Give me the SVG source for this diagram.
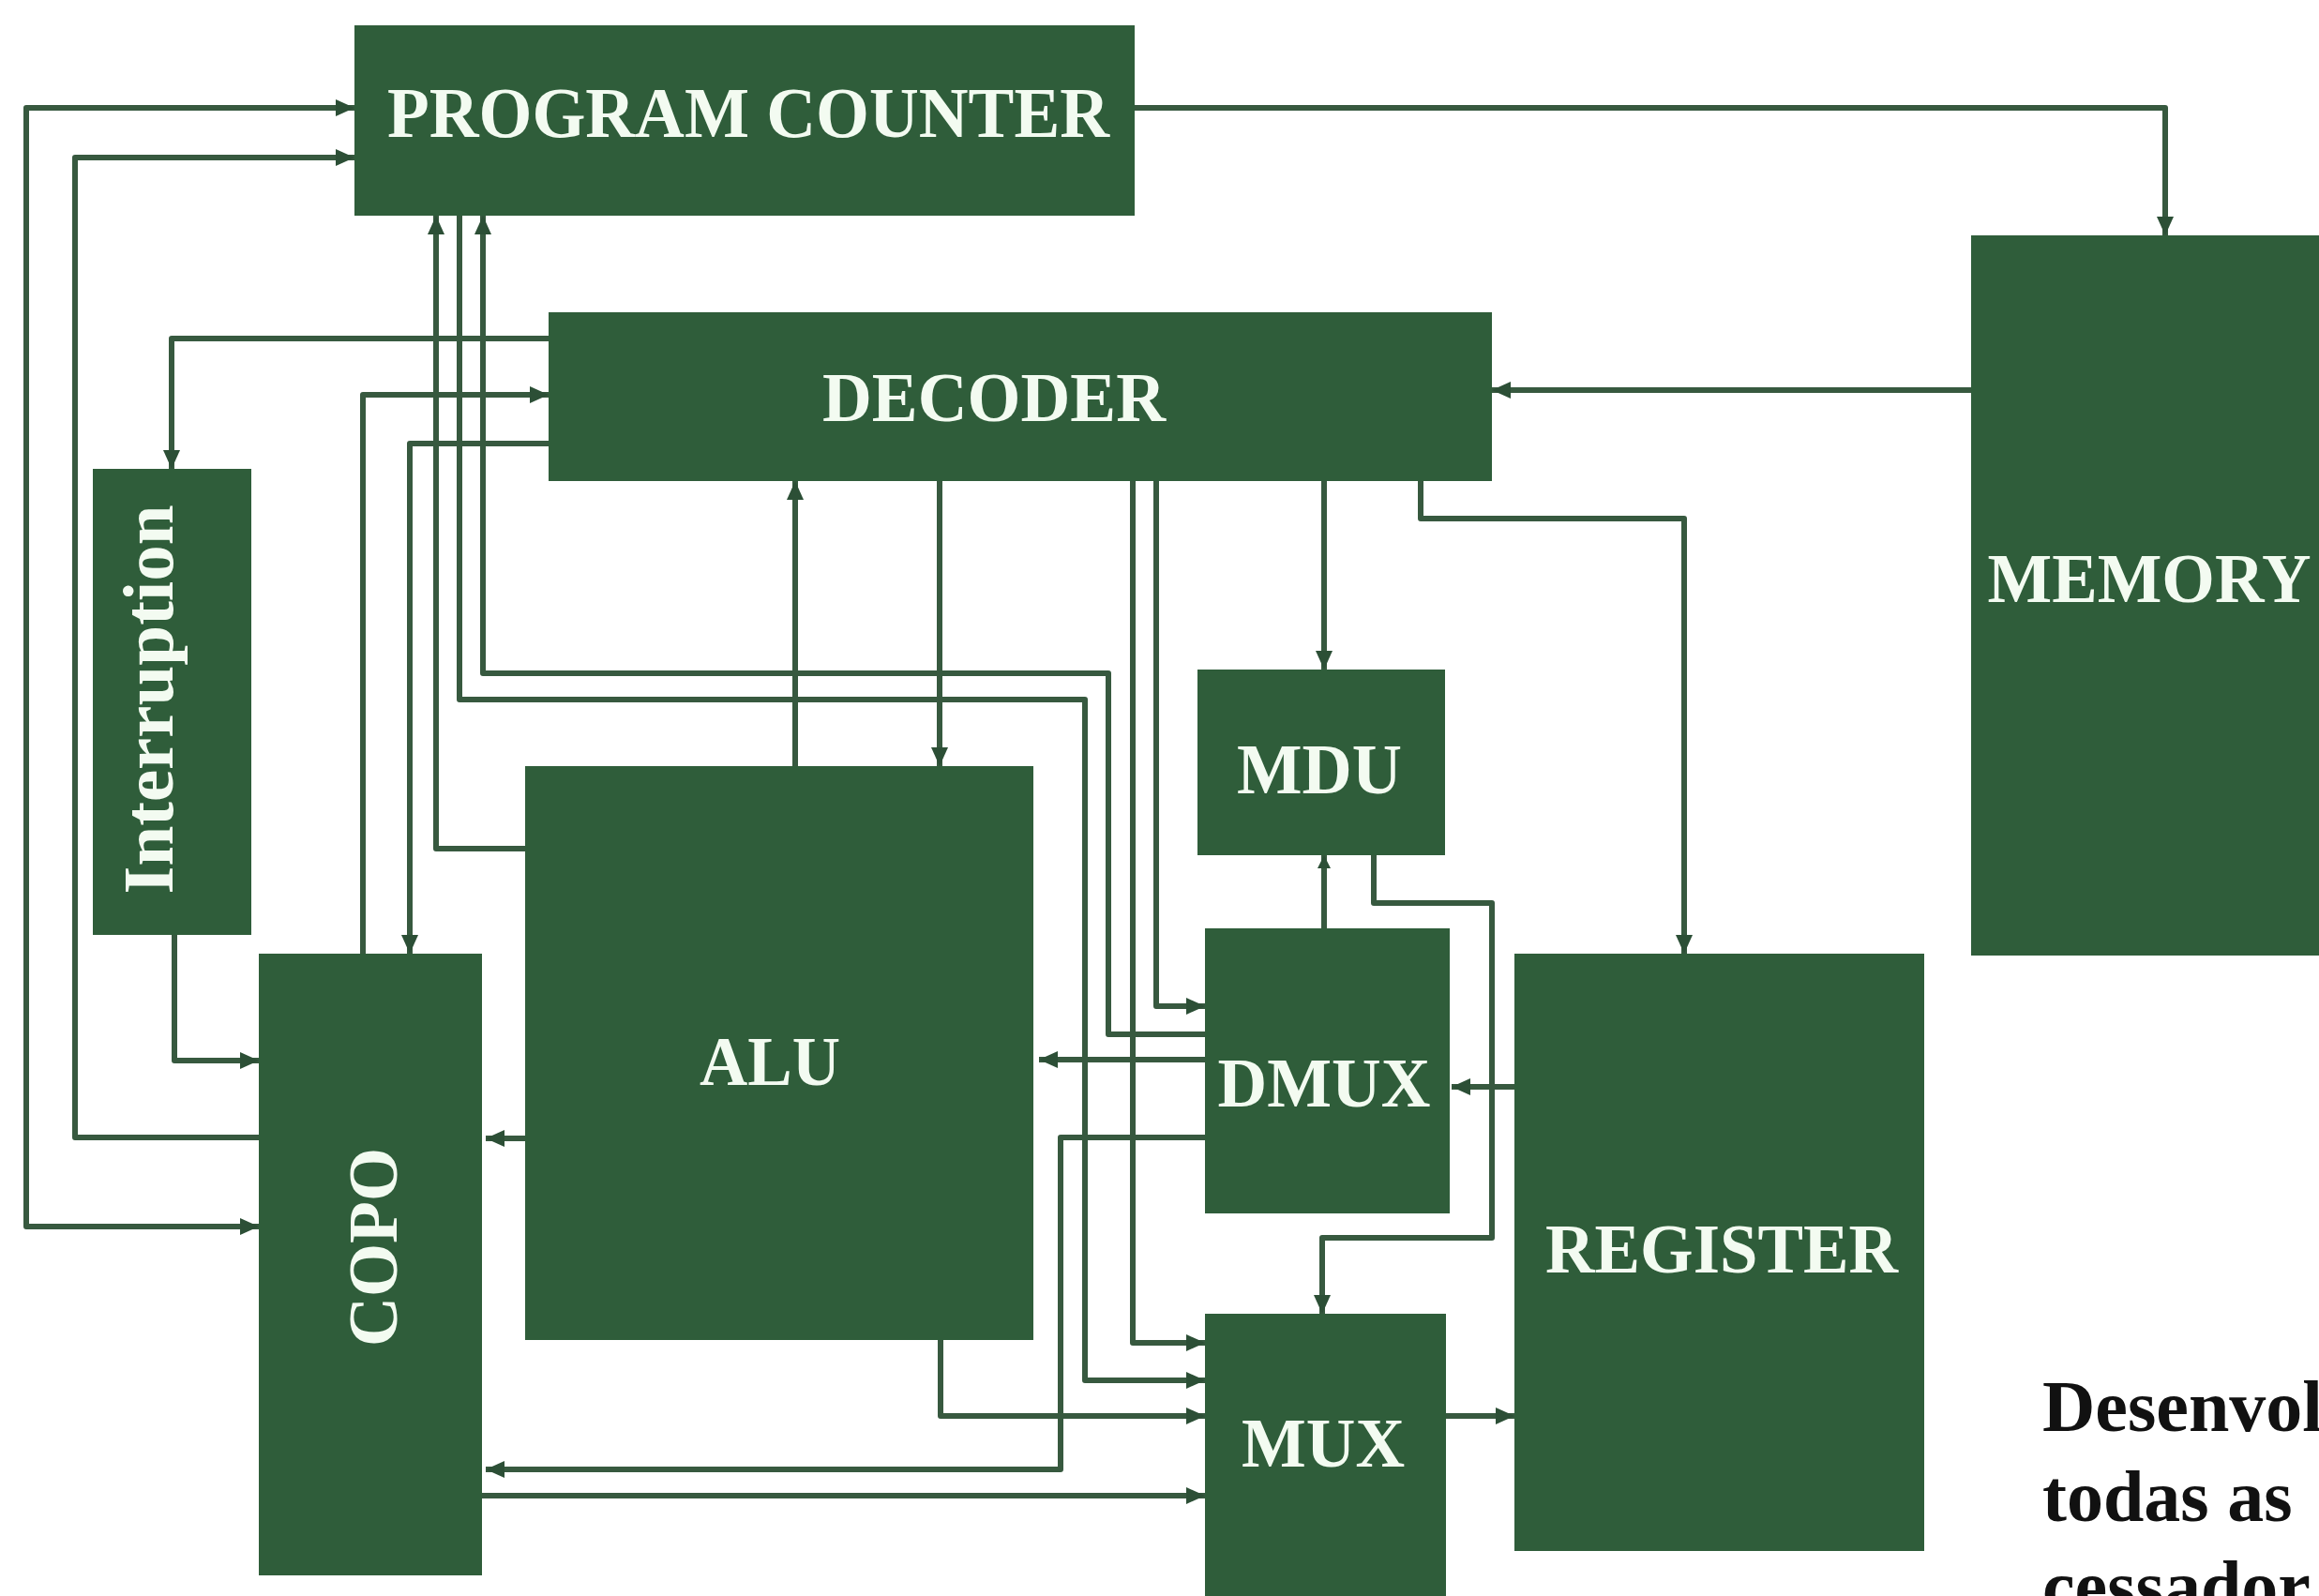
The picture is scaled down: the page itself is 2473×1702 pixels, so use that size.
<svg xmlns="http://www.w3.org/2000/svg" width="2473" height="1702" viewBox="0 0 2473 1702">
  <defs>
    <style>
      .box { fill: #2f5d3a; }
      .lbl { font-family: "Liberation Serif", "Times New Roman", serif; font-weight: bold; fill: #f3fbf1; text-anchor: middle; }
      .note { font-family: "Liberation Serif", "Times New Roman", serif; font-weight: bold; fill: #111111; font-size: 78px; }
      .wire { fill: none; stroke: #37593f; stroke-width: 6; stroke-linejoin: round; }
      .arr { marker-end: url(#ah); }
    </style>
    <marker id="ah" viewBox="0 0 20 18" refX="20" refY="9" markerWidth="20" markerHeight="18" markerUnits="userSpaceOnUse" orient="auto-start-reverse">
      <path d="M0,0 L20,9 L0,18 z" fill="#2c4f36"/>
    </marker>
    <marker id="ahs" viewBox="0 0 14 14" refX="14" refY="7" markerWidth="14" markerHeight="14" markerUnits="userSpaceOnUse" orient="auto">
      <path d="M0,0 L14,7 L0,14 z" fill="#2c4f36"/>
    </marker>
  </defs>
  <rect width="2473" height="1702" fill="#ffffff"/>

  <g id="connectors">
    <path class="wire arr" d="M1210,115 H2309 V251"/>
    <path class="wire arr" d="M2102,416 H1591"/>
    <path class="wire arr" d="M378,115 H28 V1308 H276" marker-start="url(#ah)"/>
    <path class="wire arr" d="M276,1213 H80 V168 H378"/>
    <path class="wire arr" d="M186,997 V1131 H276"/>
    <path class="wire arr" d="M585,361 H183 V500"/>
    <path class="wire arr" d="M387,1017 V421 H585"/>
    <path class="wire arr" d="M585,473 H437 V1017"/>
    <path class="wire arr" d="M560,905 H465 V230"/>
    <path class="wire arr" d="M490,230 V746 H1157 V1472 H1285"/>
    <path class="wire arr" d="M1285,1103 H1182 V718 H515 V230"/>
    <path class="wire arr" d="M848,817 V513"/>
    <path class="wire arr" d="M1002,513 V817"/>
    <path class="wire arr" d="M1233,513 V1073 H1285"/>
    <path class="wire arr" d="M1208,513 V1432 H1285"/>
    <path class="wire arr" d="M1285,1130 H1108"/>
    <path class="wire arr" d="M1285,1213 H1131 V1567 H518"/>
    <path class="wire arr" d="M560,1214 H518"/>
    <path class="wire arr" d="M514,1595 H1285"/>
    <path class="wire arr" d="M1003,1429 V1510 H1285"/>
    <path class="wire arr" d="M1542,1510 H1615"/>
    <path class="wire arr" d="M1615,1159 H1548"/>
    <path class="wire" d="M1412,990 V912" marker-end="url(#ahs)"/>
    <path class="wire arr" d="M1465,912 V963 H1591 V1320 H1410 V1401"/>
    <path class="wire arr" d="M1412,513 V714"/>
    <path class="wire arr" d="M1515,513 V553 H1796 V1017"/>
  </g>

  <g id="pc">
    <rect class="box" x="378" y="27" width="832" height="203"/>
    <text class="lbl" x="798" y="146" font-size="77" textLength="770" lengthAdjust="spacingAndGlyphs">PROGRAM COUNTER</text>
  </g>
  <g id="decoder">
    <rect class="box" x="585" y="333" width="1006" height="180"/>
    <text class="lbl" x="1060" y="449" font-size="75" textLength="366" lengthAdjust="spacingAndGlyphs">DECODER</text>
  </g>
  <g id="memory">
    <rect class="box" x="2102" y="251" width="380" height="768"/>
    <text class="lbl" x="2292" y="642" font-size="75" textLength="345" lengthAdjust="spacingAndGlyphs">MEMORY</text>
  </g>
  <g id="interruption">
    <rect class="box" x="99" y="500" width="169" height="497"/>
    <text class="lbl" transform="translate(184,746) rotate(-90)" font-size="77" textLength="415" lengthAdjust="spacingAndGlyphs">Interruption</text>
  </g>
  <g id="copo">
    <rect class="box" x="276" y="1017" width="238" height="663"/>
    <text class="lbl" transform="translate(423,1330) rotate(-90)" font-size="75" textLength="212" lengthAdjust="spacingAndGlyphs">COPO</text>
  </g>
  <g id="alu">
    <rect class="box" x="560" y="817" width="542" height="612"/>
    <text class="lbl" x="821" y="1157" font-size="75" textLength="150" lengthAdjust="spacingAndGlyphs">ALU</text>
  </g>
  <g id="mdu">
    <rect class="box" x="1277" y="714" width="264" height="198"/>
    <text class="lbl" x="1407" y="846" font-size="76" textLength="176" lengthAdjust="spacingAndGlyphs">MDU</text>
  </g>
  <g id="dmux">
    <rect class="box" x="1285" y="990" width="261" height="304"/>
    <text class="lbl" x="1412" y="1180" font-size="75" textLength="227" lengthAdjust="spacingAndGlyphs">DMUX</text>
  </g>
  <g id="mux">
    <rect class="box" x="1285" y="1401" width="257" height="301"/>
    <text class="lbl" x="1411" y="1564" font-size="75" textLength="174" lengthAdjust="spacingAndGlyphs">MUX</text>
  </g>
  <g id="register">
    <rect class="box" x="1615" y="1017" width="437" height="637"/>
    <text class="lbl" x="1836" y="1357" font-size="75" textLength="376" lengthAdjust="spacingAndGlyphs">REGISTER</text>
  </g>

  <g id="caption">
    <text class="note" x="2178" y="1526">Desenvol</text>
    <text class="note" x="2178" y="1622">todas as</text>
    <text class="note" x="2178" y="1718">cessador</text>
  </g>
</svg>
